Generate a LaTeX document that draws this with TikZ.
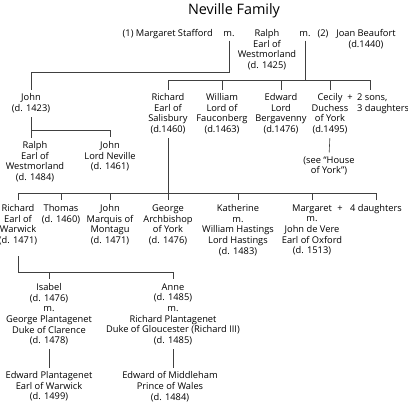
\documentclass[tikz,border=0pt]{standalone}
\usepackage{fontspec}
\setmainfont{Open Sans}

\begin{document}
\begin{tikzpicture}[x=1pt, y=-1pt,
  person/.style={align=center, inner sep=0pt, anchor=north, font=\fontsize{9.3}{10.6}\selectfont},
  word/.style={inner sep=0pt, anchor=base, font=\fontsize{9.3}{10.6}\selectfont},
  line/.style={line width=0.6pt, black!75}]
  \useasboundingbox (0,0) rectangle (408,402);

  % Title
  \node[inner sep=0pt, font=\fontsize{14.4}{16}\selectfont] (title) at (234,11) {Neville Family};

  % Ralph and his two wives
  \node[word, anchor=base east] (stafford) at (213,36.3) {(1) Margaret Stafford};
  \node[word] (m1) at (229,36.3) {m.};
  \node[person] (ralph) at (267,29.5) {Ralph\\Earl of\\Westmorland\\(d. 1425)};
  \node[word] (m2) at (305,36.3) {m.};
  \node[word] (two) at (323,36.3) {(2)};
  \node[person] (joan) at (366,29.5) {Joan Beaufort\\(d.1440)};

  % Children
  \node[person] (john) at (31,93.5) {John\\(d. 1423)};
  \node[person] (salisbury) at (168,93.5) {Richard\\Earl of\\Salisbury\\(d.1460)};
  \node[person] (william) at (222,93.5) {William\\Lord of\\Fauconberg\\(d.1463)};
  \node[person] (edward) at (281,93.5) {Edward\\Lord\\Bergavenny\\(d.1476)};
  \node[person] (cecily) at (330,93.5) {Cecily\\Duchess\\of York\\(d.1495)};
  \node[word] (plusa) at (350,100.3) {+};
  \node[person, anchor=north west, align=left] (sons) at (357,93.5) {2 sons,\\3 daughters};
  \coordinate (sonstop) at ([xshift=13pt]sons.north west);
  \node[person] (seeyork) at (329,156.5) {(see “House\\of York”)};

  % John's sons
  \node[person] (ralphw) at (35,141.5) {Ralph\\Earl of\\Westmorland\\(d. 1484)};
  \node[person] (neville) at (110,141.5) {John\\Lord Neville\\(d. 1461)};

  % Salisbury's children
  \node[person] (warwick) at (18,204.5) {Richard\\Earl of\\Warwick\\(d. 1471)};
  \node[person] (thomas) at (61,204.5) {Thomas\\(d. 1460)};
  \node[person] (montagu) at (110,204.5) {John\\Marquis of\\Montagu\\(d. 1471)};
  \node[person] (george) at (168,204.5) {George\\Archbishop\\of York\\(d. 1476)};
  \node[person] (katherine) at (238,204.5) {Katherine\\m.\\William Hastings\\Lord Hastings\\(d. 1483)};
  \node[person] (margaret) at (312,204.5) {Margaret\\m.\\John de Vere\\Earl of Oxford\\(d. 1513)};
  \node[word] (plusb) at (340,211.3) {+};
  \node[word] (daughters) at (376,211.3) {4 daughters};

  % Warwick's daughters
  \node[person] (isabel) at (49,283.5) {Isabel\\(d. 1476)\\m.\\George Plantagenet\\Duke of Clarence\\(d. 1478)};
  \node[person] (anne) at (173,283.5) {Anne\\(d. 1485)\\m.\\Richard Plantagenet\\Duke of Gloucester (Richard III)\\(d. 1485)};
  \node[person] (edwardp) at (49,371.5) {Edward Plantagenet\\Earl of Warwick\\(d. 1499)};
  \node[person] (edwardm) at (170,371.5) {Edward of Middleham\\Prince of Wales\\(d. 1484)};

  % First marriage
  \draw[line, shorten >=4pt] ([yshift=-4pt]m1.south) -- (m1.south |- 0,72) -| (john.north);

  % Second marriage
  \draw[line] ([yshift=-4pt]m2.south) -- (m2.south |- 0,80);
  \draw[line] (salisbury.north |- 0,80) -- (sonstop |- 0,80);
  \foreach \n in {salisbury,william,edward,cecily}
    \draw[line, shorten <=4pt] (\n.north) -- (\n.north |- 0,80);
  \draw[line, shorten <=4pt] (sonstop) -- (sonstop |- 0,80);
  \draw[line, shorten <=4pt, shorten >=4pt] (cecily.south) -- (seeyork.north);

  % John
  \draw[line, shorten <=4pt, shorten >=4pt] (john.south) -- (john.south |- ralphw.north);
  \draw[line, shorten >=5pt] (john.south |- 0,130) -| (neville.north);

  % Salisbury
  \draw[line, shorten <=4pt] (salisbury.south) -- (salisbury.south |- 0,193);
  \draw[line] (warwick.north |- 0,193) -- (daughters.north |- 0,193);
  \foreach \n in {warwick,thomas,montagu,george,katherine,margaret}
    \draw[line, shorten <=5pt] (\n.north) -- (\n.north |- 0,193);
  \draw[line, shorten <=4pt] (daughters.north) -- (daughters.north |- 0,193);

  % Warwick
  \draw[line, shorten <=11pt] (warwick.south) |- (anne.north |- 0,272);
  \foreach \n in {isabel,anne}
    \draw[line, shorten <=5pt] (\n.north) -- (\n.north |- 0,272);
  \draw[line, shorten <=4pt, shorten >=4pt] (isabel.south) -- (edwardp.north);
  \draw[line, shorten <=4pt, shorten >=4pt] (anne.south) -- (anne.south |- edwardm.north);
\end{tikzpicture}
\end{document}
